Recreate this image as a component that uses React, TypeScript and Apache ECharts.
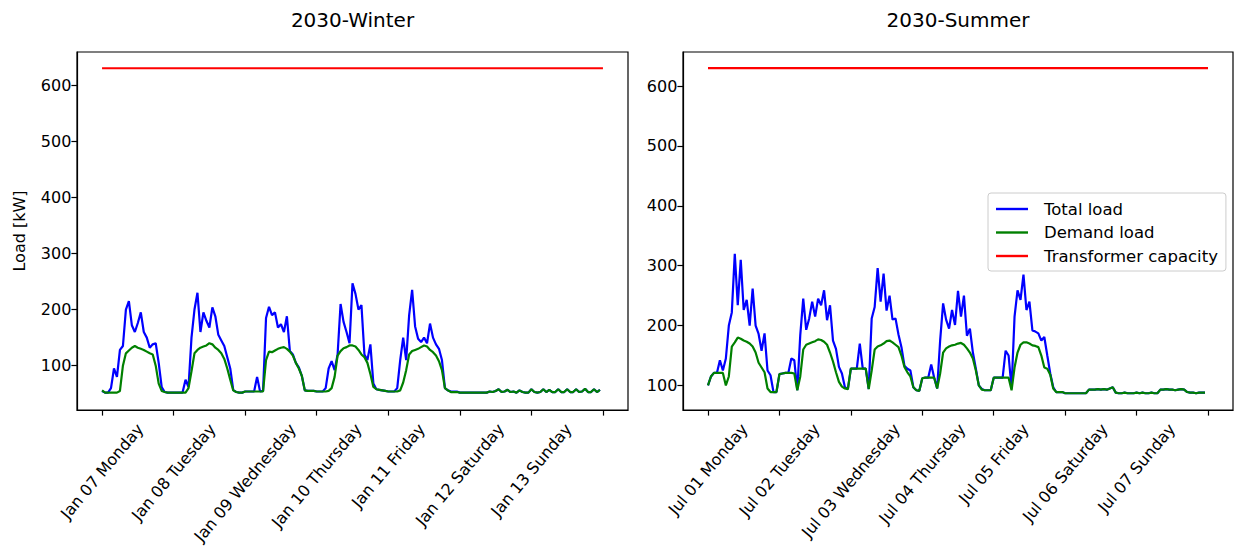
import React, { useEffect, useRef } from "react";
import * as echarts from "echarts";

// ---------- data (hourly load, kW) ----------
const chartTitles = ["2030-Winter", "2030-Summer"];
const yAxisTitle = "Load [kW]";
const legendNames = ["Total load", "Demand load", "Transformer capacity"];
const winterDays = ["Jan 07 Monday", "Jan 08 Tuesday", "Jan 09 Wednesday", "Jan 10 Thursday", "Jan 11 Friday", "Jan 12 Saturday", "Jan 13 Sunday"];
const summerDays = ["Jul 01 Monday", "Jul 02 Tuesday", "Jul 03 Wednesday", "Jul 04 Thursday", "Jul 05 Friday", "Jul 06 Saturday", "Jul 07 Sunday"];
const tickHours = [0, 24, 48, 72, 96, 120, 144, 168];
const yTicks = [100, 200, 300, 400, 500, 600];
const transformerCapacity = 630;

const winterTotal = [
  [55, 52, 52, 60, 95, 80, 128, 135, 200, 215, 172, 160, 176, 195, 160, 150, 132, 138, 140, 105, 62, 53, 52, 52],
  [52, 52, 52, 52, 75, 62, 150, 200, 230, 160, 195, 180, 168, 204, 188, 155, 145, 135, 115, 95, 57, 53, 52, 52],
  [54, 54, 54, 54, 80, 54, 55, 185, 205, 190, 195, 168, 174, 160, 188, 126, 120, 105, 97, 82, 56, 55, 55, 55],
  [54, 54, 54, 60, 95, 108, 92, 120, 210, 178, 160, 140, 247, 228, 200, 208, 120, 110, 138, 68, 58, 57, 56, 55],
  [54, 54, 54, 60, 110, 150, 110, 190, 235, 170, 148, 142, 150, 140, 175, 150, 138, 130, 110, 60, 56, 54, 54, 54],
  [52, 52, 52, 52, 52, 52, 52, 52, 52, 52, 54, 53, 55, 58, 53, 54, 57, 53, 54, 52, 56, 53, 52, 52],
  [58, 53, 52, 53, 58, 53, 57, 53, 53, 58, 53, 53, 58, 53, 53, 58, 53, 54, 59, 53, 53, 58, 53, 57],
];
const winterDemand = [
  [56, 52, 52, 52, 52, 52, 55, 100, 122, 127, 132, 135, 132, 130, 128, 125, 122, 120, 100, 68, 55, 53, 52, 52],
  [52, 52, 52, 52, 52, 60, 90, 122, 128, 132, 134, 136, 140, 138, 132, 128, 122, 112, 95, 75, 56, 53, 52, 52],
  [54, 54, 54, 54, 54, 54, 54, 110, 125, 124, 127, 130, 132, 133, 130, 125, 118, 105, 95, 82, 56, 55, 55, 55],
  [54, 54, 54, 54, 55, 60, 80, 118, 126, 131, 133, 136, 136, 134, 128, 120, 115, 105, 85, 62, 58, 57, 56, 55],
  [54, 54, 54, 54, 56, 70, 92, 120, 126, 128, 130, 133, 136, 134, 128, 124, 118, 108, 92, 60, 56, 53, 53, 53],
  [52, 52, 52, 52, 52, 52, 52, 52, 52, 52, 54, 53, 55, 58, 53, 54, 57, 53, 54, 52, 56, 53, 52, 52],
  [58, 53, 52, 53, 58, 53, 57, 53, 53, 58, 53, 53, 58, 53, 53, 58, 53, 54, 59, 53, 53, 58, 53, 57],
];
const summerTotal = [
  [100, 115, 121, 121, 142, 125, 145, 200, 222, 320, 234, 310, 226, 243, 200, 262, 200, 186, 158, 187, 125, 117, 89, 89],
  [119, 120, 121, 121, 145, 142, 92, 184, 245, 193, 212, 240, 215, 245, 234, 259, 209, 234, 175, 161, 131, 120, 97, 94],
  [128, 128, 128, 170, 128, 128, 94, 212, 231, 296, 240, 287, 225, 250, 210, 212, 185, 164, 133, 128, 125, 97, 92, 91],
  [112, 113, 113, 135, 113, 95, 175, 237, 210, 195, 226, 201, 258, 215, 250, 183, 195, 155, 128, 100, 94, 92, 92, 92],
  [113, 113, 113, 113, 158, 150, 95, 215, 259, 243, 285, 226, 240, 192, 190, 187, 175, 181, 150, 120, 97, 89, 89, 89],
  [87, 87, 87, 87, 87, 87, 87, 87, 93, 93, 93, 94, 93, 94, 93, 95, 97, 88, 87, 87, 88, 87, 87, 87],
  [88, 87, 88, 87, 87, 88, 87, 87, 93, 93, 94, 93, 93, 92, 93, 94, 93, 89, 88, 88, 87, 88, 88, 88],
];
const summerDemand = [
  [100, 115, 121, 121, 121, 121, 100, 115, 165, 172, 180, 178, 175, 173, 170, 165, 155, 138, 130, 122, 95, 89, 89, 89],
  [119, 120, 121, 121, 121, 120, 92, 115, 160, 168, 170, 172, 174, 177, 176, 173, 168, 155, 140, 122, 106, 98, 95, 94],
  [128, 128, 128, 128, 128, 128, 94, 125, 160, 165, 167, 170, 174, 175, 172, 168, 164, 150, 131, 122, 115, 97, 92, 91],
  [112, 113, 113, 113, 113, 95, 120, 155, 162, 165, 167, 168, 170, 171, 168, 162, 155, 145, 125, 100, 93, 92, 92, 92],
  [113, 113, 113, 113, 113, 113, 92, 130, 155, 168, 172, 172, 170, 167, 166, 164, 150, 130, 128, 118, 95, 89, 89, 89],
  [87, 87, 87, 87, 87, 87, 87, 87, 93, 93, 93, 94, 93, 94, 93, 95, 97, 88, 87, 87, 88, 87, 87, 87],
  [88, 87, 88, 87, 87, 88, 87, 87, 93, 93, 94, 93, 93, 92, 93, 94, 93, 89, 88, 88, 87, 88, 88, 88],
];

const FONT = '"DejaVu Sans", sans-serif';
const FS = 16;
const COLORS = ["#0000ff", "#008000", "#ff0000"];

const toPoints = (days: number[][]) => days.flat().map((v, i) => [i, v]);
const capLine = () => [[tickHours[0], transformerCapacity], [tickHours[tickHours.length - 1], transformerCapacity]];

function measure(text: string, font: string) {
  const c = document.createElement("canvas").getContext("2d");
  if (!c) return text.length * FS * 0.6;
  c.font = font;
  return c.measureText(text).width;
}

export default function App() {
  const ref = useRef<HTMLDivElement>(null);
  useEffect(() => {
    if (!ref.current) return;
    const chart = echarts.init(ref.current, null, { renderer: "svg" });
    const grids = [
      { left: 77, top: 52, width: 551, height: 358 },
      { left: 683, top: 52, width: 550, height: 358 },
    ];
    const yRanges = [[21, 659], [59, 657]];
    const xAxis = grids.map((_, i) => ({
      type: "value",
      gridIndex: i,
      min: -8.4,
      max: 176.4,
      splitLine: { show: false },
      axisLine: { show: true, onZero: false, lineStyle: { color: "#000", width: 1.2 } },
      axisTick: { show: true, customValues: tickHours, length: 5.6, lineStyle: { color: "#000", width: 1.2 } },
      axisLabel: { show: false },
    }));
    const yAxis = grids.map((_, i) => ({
      type: "value",
      gridIndex: i,
      min: yRanges[i][0],
      max: yRanges[i][1],
      name: i === 0 ? yAxisTitle : "",
      nameLocation: "middle",
      nameGap: 50,
      nameTextStyle: { fontFamily: FONT, fontSize: FS, color: "#000" },
      splitLine: { show: false },
      axisLine: { show: true, onZero: false, lineStyle: { color: "#000", width: 1.2 } },
      axisTick: { show: true, customValues: yTicks, length: 5.6, lineStyle: { color: "#000", width: 1.2 } },
      axisLabel: { customValues: yTicks, fontFamily: FONT, fontSize: FS, color: "#000", margin: 5.6 },
    }));
    const mk = (name: string, color: string, data: number[][], gi: number, z: number) => ({
      name,
      type: "line",
      xAxisIndex: gi,
      yAxisIndex: gi,
      data,
      symbol: "none",
      showSymbol: false,
      z,
      lineStyle: { color, width: 2.2 },
      itemStyle: { color },
    });
    const series = [
      mk(legendNames[0], COLORS[0], toPoints(winterTotal), 0, 2),
      mk(legendNames[1], COLORS[1], toPoints(winterDemand), 0, 3),
      mk(legendNames[2], COLORS[2], capLine(), 0, 4),
      mk(legendNames[0], COLORS[0], toPoints(summerTotal), 1, 2),
      mk(legendNames[1], COLORS[1], toPoints(summerDemand), 1, 3),
      mk(legendNames[2], COLORS[2], capLine(), 1, 4),
    ];
    chart.setOption({
      animation: false,
      backgroundColor: "#fff",
      grid: grids.map((g) => ({ ...g, show: true, borderColor: "#000", borderWidth: 1.2, backgroundColor: "transparent" })),
      xAxis,
      yAxis,
      legend: {
        data: legendNames.map((n) => ({ name: n, icon: "rect" })),
        orient: "vertical",
        left: 988,
        top: 193,
        padding: [7, 8, 6, 8],
        itemWidth: 32,
        itemHeight: 2.4,
        itemGap: 5.5,
        backgroundColor: "#fff",
        borderColor: "#cccccc",
        borderWidth: 1,
        borderRadius: 3,
        selectedMode: false,
        textStyle: { fontFamily: FONT, fontSize: 16.5, lineHeight: 18, color: "#000", padding: [0, 0, 0, 11] },
      },
      series,
    });

    const graphics: any[] = [];
    // titles, centred over each plot area
    chartTitles.forEach((t, gi) => {
      const xL = chart.convertToPixel({ xAxisIndex: gi }, -8.4) as number;
      const xR = chart.convertToPixel({ xAxisIndex: gi }, 176.4) as number;
      graphics.push({
        type: "text",
        x: (xL + xR) / 2,
        y: 20,
        silent: true,
        style: { text: t, fontFamily: FONT, fontSize: 20, fill: "#000", align: "center", verticalAlign: "middle" },
      });
    });
    // rotated x tick labels (matplotlib-style centred rotation)
    const ang = (50 * Math.PI) / 180;
    const lh = FS * 1.17;
    const y0 = 420;
    [winterDays, summerDays].forEach((labels, gi) => {
      labels.forEach((lab, i) => {
        const px = chart.convertToPixel({ xAxisIndex: gi }, tickHours[i]) as number;
        const L = measure(lab, `${FS}px "DejaVu Sans"`);
        const H = L * Math.sin(ang) + lh * Math.cos(ang);
        graphics.push({
          type: "text",
          x: px,
          y: y0 + H / 2,
          rotation: ang,
          silent: true,
          style: { text: lab, fontFamily: FONT, fontSize: FS, fill: "#000", align: "center", verticalAlign: "middle" },
        });
      });
    });
    chart.setOption({ graphic: graphics });
    return () => chart.dispose();
  }, []);
  return <div ref={ref} style={{ position: "fixed", left: 0, top: 0, width: 1234, height: 551 }} />;
}
